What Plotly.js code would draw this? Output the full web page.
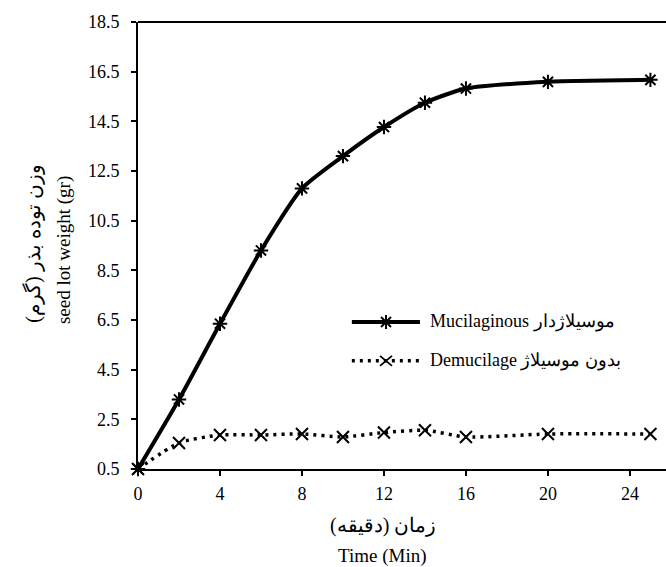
<!DOCTYPE html>
<html>
<head>
<meta charset="utf-8">
<script src="https://cdn.plot.ly/plotly-3.0.1.min.js"></script>
<style>html,body{margin:0;padding:0;background:#fff;}#chart{width:666px;height:567px;}</style>
</head>
<body>
<div id="chart"></div>
<script>
// Data
var timeMin = [0, 2, 4, 6, 8, 10, 12, 14, 16, 20, 25];
var mucilaginous = [0.5, 3.3, 6.35, 9.3, 11.8, 13.1, 14.27, 15.25, 15.82, 16.09, 16.17];
var demucilage = [0.5, 1.55, 1.87, 1.87, 1.91, 1.79, 1.97, 2.06, 1.79, 1.91, 1.91];
var seriesNames = ['Mucilaginous موسیلاژدار', 'Demucilage بدون موسیلاژ'];
var xTicks = [0, 4, 8, 12, 16, 20, 24];
var yTicks = [0.5, 2.5, 4.5, 6.5, 8.5, 10.5, 12.5, 14.5, 16.5, 18.5];
var xTitleFa = 'زمان (دقیقه)';
var xTitleEn = 'Time (Min)';
var yTitleFa = 'وزن توده بذر (گرم)';
var yTitleEn = 'seed lot weight (gr)';

var serif = '"Liberation Serif", serif';

var traces = [
  {
    x: timeMin, y: mucilaginous, name: seriesNames[0], type: 'scatter', mode: 'lines+markers',
    line: {color: '#000', width: 4, shape: 'spline', smoothing: 0.6},
    marker: {symbol: 'asterisk-open', size: 12, color: '#000', line: {color: '#000', width: 2}},
    cliponaxis: false
  },
  {
    x: timeMin, y: demucilage, name: seriesNames[1], type: 'scatter', mode: 'lines+markers',
    line: {color: '#000', width: 3.5, shape: 'spline', smoothing: 0.6, dash: '3px,5px'},
    marker: {symbol: 'x-thin-open', size: 12, color: '#000', line: {color: '#000', width: 2}},
    cliponaxis: false
  }
];

// custom legend geometry (paper coordinates)
var legX0 = 0.405, legX1 = 0.534, legMark = 0.4697, legText = 0.549;
var legRow = [0.329, 0.242];

var layout = {
  width: 666, height: 567,
  margin: {l: 138, r: 0, t: 22, b: 98},
  paper_bgcolor: '#fff', plot_bgcolor: '#fff',
  font: {family: serif, color: '#000', size: 18},
  showlegend: false,
  xaxis: {
    range: [0, 25.76], tickvals: xTicks, ticktext: xTicks.map(String),
    showgrid: false, zeroline: false, showline: true, linecolor: '#000', linewidth: 2,
    ticks: 'outside', ticklen: 5, tickwidth: 2, tickcolor: '#000',
    tickfont: {family: serif, size: 18}, ticklabelstandoff: 2
  },
  yaxis: {
    range: [0.5, 18.5], tickvals: yTicks, ticktext: yTicks.map(function(v){return v.toFixed(1);}),
    showgrid: false, zeroline: false, showline: true, linecolor: '#000', linewidth: 2,
    ticks: 'outside', ticklen: 5, tickwidth: 2, tickcolor: '#000',
    tickfont: {family: serif, size: 18}, ticklabelstandoff: 8
  },
  shapes: [
    {type: 'line', xref: 'paper', yref: 'paper', x0: 0, x1: 1, y0: 1, y1: 1, line: {color: '#000', width: 2}},
    // legend samples
    {type: 'line', xref: 'paper', yref: 'paper', x0: legX0, x1: legX1, y0: legRow[0], y1: legRow[0], line: {color: '#000', width: 4}},
    {type: 'path', xref: 'paper', yref: 'paper', xsizemode: 'pixel', ysizemode: 'pixel', xanchor: legMark, yanchor: legRow[0],
     path: 'M-5,-5L5,5M-5,5L5,-5M0,-7L0,7', line: {color: '#000', width: 2}},
    {type: 'line', xref: 'paper', yref: 'paper', x0: legX0, x1: legX1, y0: legRow[1], y1: legRow[1], line: {color: '#000', width: 3.5, dash: '3px,5px'}},
    {type: 'path', xref: 'paper', yref: 'paper', xsizemode: 'pixel', ysizemode: 'pixel', xanchor: legMark, yanchor: legRow[1],
     path: 'M-6,-5L6,5M-6,5L6,-5', line: {color: '#000', width: 1.8}}
  ],
  annotations: [
    {text: seriesNames[0], xref: 'paper', yref: 'paper', x: legText, y: legRow[0], xanchor: 'left', yanchor: 'middle', showarrow: false, font: {family: serif, size: 18}},
    {text: seriesNames[1], xref: 'paper', yref: 'paper', x: legText, y: legRow[1], xanchor: 'left', yanchor: 'middle', showarrow: false, font: {family: serif, size: 18}},
    {text: xTitleFa, xref: 'paper', yref: 'paper', x: 0.464, y: -0.1275, xanchor: 'center', yanchor: 'middle', showarrow: false, font: {family: serif, size: 20}},
    {text: xTitleEn, xref: 'paper', yref: 'paper', x: 0.464, y: -0.1946, xanchor: 'center', yanchor: 'middle', showarrow: false, font: {family: serif, size: 19}},
    {text: yTitleFa, xref: 'paper', yref: 'paper', x: -0.198, y: 0.505, xanchor: 'center', yanchor: 'middle', textangle: -90, showarrow: false, font: {family: serif, size: 20}},
    {text: yTitleEn, xref: 'paper', yref: 'paper', x: -0.140, y: 0.49, xanchor: 'center', yanchor: 'middle', textangle: -90, showarrow: false, font: {family: serif, size: 19}}
  ]
};

Plotly.newPlot('chart', traces, layout, {displayModeBar: false, staticPlot: true});
</script>
</body>
</html>
